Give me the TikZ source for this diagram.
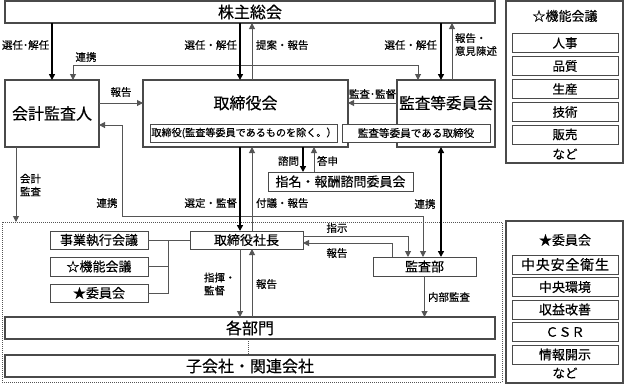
\documentclass[tikz,border=0pt]{standalone}
\usepackage{fontspec}
\setmainfont{Noto Sans CJK JP}[FakeBold=0.35]
\usetikzlibrary{arrows.meta}
\definecolor{bc}{HTML}{4A4A4A}
\definecolor{lc}{HTML}{555555}
\begin{document}
\begin{tikzpicture}[x=1pt,y=-1pt,
  every node/.style={inner sep=0pt,outer sep=0pt},
  box/.style={draw=bc,line width=1.2pt,fill=white,rectangle},
  sbox/.style={draw=bc,line width=1pt,fill=white,rectangle},
  fbig/.style={font=\fontsize{16}{18}\selectfont},
  fmid/.style={font=\fontsize{13}{15}\selectfont},
  flab/.style={font=\fontsize{10.5}{13}\selectfont},
  tip/.tip={Triangle[length=6pt,width=6pt]},
  thk/.style={draw=black,line width=2pt,-tip},
  thkb/.style={draw=black,line width=2pt,tip-tip},
  thn/.style={draw=lc,line width=1pt,-tip},
  thnb/.style={draw=lc,line width=1pt,tip-tip},
  ln/.style={draw=lc,line width=1pt},
]
\useasboundingbox (0,0) rectangle (624,384);

% dotted group frame
\node[draw=lc,line width=0.8pt,dash pattern=on 1pt off 1pt,minimum width=500pt,minimum height=160pt] (grp) at (252,302) {};

% top boxes
\node[box,fbig,minimum width=490pt,minimum height=22pt] (gkm) at (250,12) {株主総会};
\node[box,fbig,minimum width=94pt,minimum height=67pt] (acc) at (52,113.5) {会計監査人};
\node[box,minimum width=205pt,minimum height=67pt] (bod) at (245.5,113.5) {};
\node[fbig] (bodt) at (245.5,103) {取締役会};
\node[box,minimum width=98pt,minimum height=67pt] (ac) at (446,113.5) {};
\node[font=\fontsize{15.6}{18}\selectfont] (act) at (446,103) {監査等委員会};
\node[sbox,minimum width=187pt,minimum height=18pt,font=\fontsize{10.1}{12}\selectfont] (bodx) at (243.5,133) {\kern1pt 取締役(監査等委員であるものを除く。）};
\node[sbox,minimum width=148pt,minimum height=18pt,font=\fontsize{10.6}{12}\selectfont] (acx) at (416,133) {監査等委員である取締役};
\node[sbox,fmid,minimum width=145pt,minimum height=19pt] (nom) at (340.5,181.5) {指名・報酬諮問委員会};

% lower boxes
\node[sbox,fmid,minimum width=98pt,minimum height=18pt] (exe) at (99,240) {事業執行会議};
\node[sbox,fmid,minimum width=98pt,minimum height=19pt] (fun) at (99,266.5) {☆機能会議};
\node[sbox,fmid,minimum width=98pt,minimum height=18pt] (com) at (99,293) {★委員会};
\node[sbox,fmid,minimum width=113pt,minimum height=18pt] (pres) at (246.5,240) {取締役社長};
\node[sbox,fmid,minimum width=103pt,minimum height=19pt] (aud) at (424.5,266.5) {監査部};
\node[box,fbig,minimum width=490pt,minimum height=22pt] (dept) at (250,328) {各部門};
\node[box,fbig,minimum width=490pt,minimum height=22pt] (sub) at (250,366) {子会社・関連会社};

% right panels
\node[box,minimum width=117pt,minimum height=162pt] (pan1) at (564.5,82) {};
\node[fmid] (pan1t) at (565,16) {☆機能会議};
\node[sbox,font=\fontsize{12.5}{14}\selectfont,minimum width=106pt,minimum height=19pt] (p11) at (565,43) {人事};
\node[sbox,font=\fontsize{12.5}{14}\selectfont,minimum width=106pt,minimum height=19pt] (p12) at (565,66) {品質};
\node[sbox,font=\fontsize{12.5}{14}\selectfont,minimum width=106pt,minimum height=19pt] (p13) at (565,89) {生産};
\node[sbox,font=\fontsize{12.5}{14}\selectfont,minimum width=106pt,minimum height=19pt] (p14) at (565,112) {技術};
\node[sbox,font=\fontsize{12.5}{14}\selectfont,minimum width=106pt,minimum height=19pt] (p15) at (565,134.5) {販売};
\node[font=\fontsize{12.5}{14}\selectfont] (p16) at (565,154) {など};

\node[box,minimum width=117pt,minimum height=162pt] (pan2) at (564.5,302) {};
\node[fmid] (pan2t) at (565,240) {★委員会};
\node[sbox,font=\fontsize{14}{15}\selectfont,minimum width=106pt,minimum height=19pt] (p21) at (565,264.5) {中\kern0.8pt 央\kern0.8pt 安\kern0.8pt 全\kern0.8pt 衛\kern0.8pt 生};
\node[sbox,fmid,minimum width=106pt,minimum height=19pt] (p22) at (565,287) {中央環境};
\node[sbox,fmid,minimum width=106pt,minimum height=19pt] (p23) at (565,309.5) {収益改善};
\node[sbox,fmid,minimum width=106pt,minimum height=19pt] (p24) at (565,332) {ＣＳＲ};
\node[sbox,fmid,minimum width=106pt,minimum height=19pt] (p25) at (565,354.5) {情報開示};
\node[font=\fontsize{12.5}{14}\selectfont] (p26) at (565,373) {など};

% helper coordinates
\coordinate (c16) at (16,0);
\coordinate (c168) at (168,0);
\coordinate (c240) at (240,0);
\coordinate (c252) at (252,0);
\coordinate (c248) at (248,0);
\coordinate (c303) at (303,0);
\coordinate (c314) at (314,0);
\coordinate (c441) at (441,0);
\coordinate (c452) at (452,0);
\coordinate (r103) at (0,103);
\coordinate (k1) at (423,216);
\coordinate (k2) at (122,216);
\coordinate (k3) at (122,125);
\coordinate (k4) at (408,236);
\coordinate (k5) at (392,243);

% connectors
\draw[thk] (gkm.south -| acc.north) -- (acc.north);
\draw[thnb] ([xshift=21pt]acc.north) -- ++(0,-15) -| ([xshift=-28pt]ac.north);
\draw[thk] (gkm.south -| c240) -- (bod.north -| c240);
\draw[thn] (bod.north -| c252) -- (gkm.south -| c252);
\draw[thk] (gkm.south -| c441) -- (ac.north -| c441);
\draw[thn] (ac.north -| c452) -- (gkm.south -| c452);
\draw[thn] (acc.east |- r103) -- (bod.west |- r103);
\draw[thn] (ac.west |- r103) -- (bod.east |- r103);
\draw[thnb] (aud.north -| k1) -- (k1) -- (k2) -- (k3) -- (acc.east |- k3);
\draw[thk] (bod.south -| c240) -- (pres.north -| c240);
\draw[thn] (pres.north -| c252) -- (bod.south -| c252);
\draw[thk] (bod.south -| c303) -- (nom.north -| c303);
\draw[thn] (nom.north -| c314) -- (bod.south -| c314);
\draw[thkb] (ac.south -| c441) -- (aud.north -| c441);
\draw[thn] (acc.south -| c16) -- (grp.north -| c16);
\draw[ln] (exe.east) -- (pres.west);
\draw[ln] (fun.east) -- (fun.east -| c168);
\draw[ln] (com.east) -- (com.east -| c168) -- (exe.east -| c168);
\draw[thn] (pres.south -| c240) -- (dept.north -| c240);
\draw[thn] (dept.north -| c252) -- (pres.south -| c252);
\draw[thn] (pres.east |- k4) -- (k4) -- (aud.north -| k4);
\draw[thn] (aud.north -| k5) -- (k5) -- (pres.east |- k5);
\draw[thn] (aud.south) -- (dept.north -| aud.south);
\draw[lc,line width=0.8pt,dash pattern=on 1pt off 1pt] (dept.south -| c248) -- (sub.north -| c248);

% labels
\node[flab,anchor=west] (l1) at (2,45) {選任･解任};
\node[flab] (l2) at (86,57) {連携};
\node[flab,anchor=east] (l3) at (237,45) {選任・解任};
\node[flab,anchor=west] (l4) at (256,45) {提案・報告};
\node[flab,anchor=east] (l5) at (437,45) {選任・解任};
\node[flab,anchor=west,align=left] (l6) at (455,44.5) {報告・\\意見陳述};
\node[flab] (l7) at (121,92) {報告};
\node[flab] (l8) at (372.5,94) {監査･監督};
\node[flab,anchor=east] (l9) at (299,161) {諮問};
\node[flab,anchor=west] (l10) at (317,161) {答申};
\node[flab,anchor=west,align=left] (l11) at (20,185) {会計\\監査};
\node[flab] (l12) at (107,203) {連携};
\node[flab,anchor=east] (l13) at (237,203) {選定・監督};
\node[flab,anchor=west] (l14) at (256,203) {付議・報告};
\node[flab] (l15) at (425,204) {連携};
\node[flab] (l16) at (337,228) {指示};
\node[flab] (l17) at (337,253) {報告};
\node[flab,anchor=west,align=left] (l18) at (204,284) {指揮・\\監督};
\node[flab,anchor=west] (l19) at (256,284) {報告};
\node[flab,anchor=west] (l20) at (428,297) {内部監査};
\end{tikzpicture}
\end{document}
